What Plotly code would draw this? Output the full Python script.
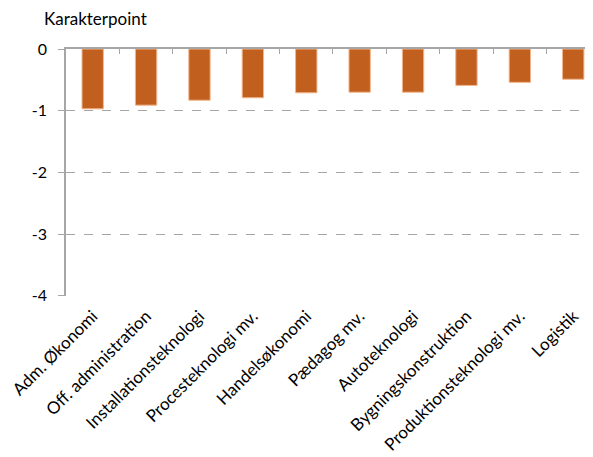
import plotly.graph_objects as go

categories = ["Adm. Økonomi", "Off. administration", "Installationsteknologi",
              "Procesteknologi mv.", "Handelsøkonomi", "Pædagog mv.", "Autoteknologi",
              "Bygningskonstruktion", "Produktionsteknologi mv.", "Logistik"]
values = [-0.97, -0.91, -0.83, -0.79, -0.71, -0.70, -0.70, -0.59, -0.54, -0.49]
y_ticks = [0, -1, -2, -3, -4]
y_title = "Karakterpoint"

bar_color = "#C05F1E"
grid_color = "#A6A6A6"
font_family = "Lato, 'Open Sans', sans-serif"

idx = list(range(len(categories)))
x_range = [-0.5, 9.52]

fig = go.Figure()
fig.add_trace(go.Bar(
    x=idx, y=values, width=0.4,
    marker=dict(color=bar_color, line=dict(color="#F2B58C", width=1)),
    showlegend=False, hoverinfo="skip",
))
# invisible anchor for the top helper axis
fig.add_trace(go.Scatter(x=[0], y=[0], xaxis="x2", mode="markers",
                         marker=dict(opacity=0), showlegend=False, hoverinfo="skip"))

fig.update_layout(
    width=593, height=457,
    margin=dict(l=58, r=0, t=41, b=169, autoexpand=False),
    paper_bgcolor="white", plot_bgcolor="white",
    font=dict(family=font_family, color="#000000"),
    xaxis=dict(
        range=x_range, tickmode="array", tickvals=idx, ticktext=categories,
        tickangle=-45, tickfont=dict(size=17), ticklabelstandoff=6,
        showgrid=False, zeroline=False, showline=False, ticks="",
        automargin=False, ticklabeloverflow="allow",
    ),
    xaxis2=dict(
        overlaying="x", side="top", range=x_range,
        tickmode="array", tickvals=[i + 0.5 for i in idx],
        ticks="inside", ticklen=5, tickcolor=grid_color, tickwidth=1,
        showticklabels=False, showline=True, linecolor=grid_color, linewidth=1.5,
        showgrid=False, zeroline=False, automargin=False,
    ),
    yaxis=dict(
        range=[-4.002, 0], tickmode="array", tickvals=y_ticks,
        ticktext=[str(v) for v in y_ticks],
        tickfont=dict(size=16), ticks="outside", ticklen=6, tickcolor=grid_color,
        ticklabelstandoff=8,
        showline=True, linecolor=grid_color, linewidth=1.5,
        showgrid=True, gridcolor=grid_color, griddash="dash", gridwidth=1,
        zeroline=False, automargin=False,
    ),
    annotations=[dict(
        text=y_title, xref="paper", yref="paper", x=-24 / 535, y=1.0,
        xanchor="left", yanchor="bottom", yshift=18, showarrow=False,
        font=dict(size=17, family=font_family),
    )],
)

fig.write_html("out.html")
